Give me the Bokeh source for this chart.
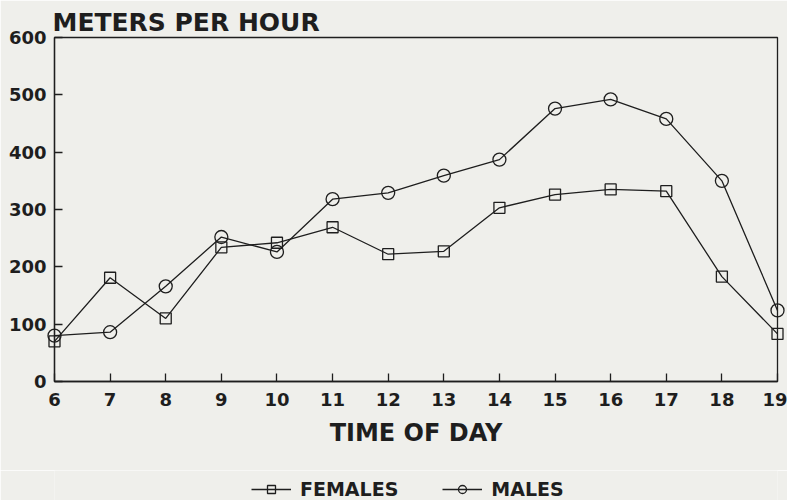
from bokeh.plotting import figure
from bokeh.layouts import column
from bokeh.models import Legend, LegendItem, Range1d, FixedTicker
from bokeh.embed import file_html
from bokeh.resources import INLINE

# ---- data ----
hours = [6, 7, 8, 9, 10, 11, 12, 13, 14, 15, 16, 17, 18, 19]
females = [70, 181, 110, 234, 242, 269, 222, 227, 303, 326, 335, 332, 183, 83]
males = [80, 86, 166, 252, 226, 318, 329, 359, 387, 476, 492, 458, 350, 124]
y_ticks = [0, 100, 200, 300, 400, 500, 600]
series_names = ["FEMALES", "MALES"]

FONT = "DejaVu Sans"
BG = "#efefeb"
INK = "#1e1e1e"

p = figure(width=787, height=470, output_backend="svg", toolbar_location=None,
           x_range=Range1d(hours[0], hours[-1]), y_range=Range1d(y_ticks[0], y_ticks[-1]),
           min_border_left=54, min_border_right=10, min_border_top=37, min_border_bottom=89)

p.background_fill_color = BG
p.border_fill_color = BG
p.outline_line_color = INK
p.outline_line_width = 1.3
p.grid.visible = False

p.title.text = "METERS PER HOUR"
p.title.text_font = FONT
p.title.text_font_size = "25px"
p.title.text_font_style = "bold"
p.title.text_color = INK
p.title.align = "left"
p.title.offset = -2
p.title.standoff = 2

for ax in (p.xaxis[0], p.yaxis[0]):
    ax.major_tick_in = 8
    ax.major_tick_out = 0
    ax.minor_tick_line_color = None
    ax.axis_line_color = INK
    ax.axis_line_width = 1.3
    ax.major_tick_line_color = INK
    ax.major_tick_line_width = 1.3
    ax.major_label_text_font = FONT
    ax.major_label_text_font_size = "18px"
    ax.major_label_text_font_style = "bold"
    ax.major_label_text_color = INK

p.xaxis.ticker = FixedTicker(ticks=hours)
p.yaxis.ticker = FixedTicker(ticks=y_ticks)
p.xaxis.major_label_standoff = 11
p.yaxis.major_label_standoff = 8
p.xaxis.axis_label = "TIME OF DAY"
p.xaxis.axis_label_text_font = FONT
p.xaxis.axis_label_text_font_size = "24px"
p.xaxis.axis_label_text_font_style = "bold"
p.xaxis.axis_label_text_color = INK
p.xaxis.axis_label_standoff = 10

line_kw = dict(line_color=INK, line_width=1.3)
sq_kw = dict(marker="square", size=11, line_color=INK, line_width=1.3, fill_alpha=0)
ci_kw = dict(marker="circle", size=13, line_color=INK, line_width=1.3, fill_alpha=0)

p.line(hours, females, **line_kw)
p.scatter(hours, females, level="annotation", **sq_kw)
p.line(hours, males, **line_kw)
p.scatter(hours, males, level="annotation", **ci_kw)

# ---- legend strip below the chart ----
p2 = figure(width=787, height=30, output_backend="svg", toolbar_location=None,
            x_axis_location=None, y_axis_location=None,
            x_range=Range1d(hours[0], hours[-1]), y_range=Range1d(-2, -1),
            min_border_left=0, min_border_right=0, min_border_top=0, min_border_bottom=0)
p2.background_fill_color = BG
p2.border_fill_color = BG
p2.outline_line_color = None
p2.grid.visible = False

fl = p2.line(hours, females, **line_kw)
fs = p2.scatter(hours, females, **sq_kw)
ml = p2.line(hours, males, **line_kw)
ms = p2.scatter(hours, males, **ci_kw)

legend = Legend(items=[LegendItem(label=series_names[0], renderers=[fl, fs]),
                       LegendItem(label=series_names[1], renderers=[ml, ms])],
                orientation="horizontal", location=(197, 0),
                border_line_color=None, background_fill_alpha=0,
                label_text_font=FONT, label_text_font_size="19px",
                label_text_font_style="bold", label_text_color=INK,
                glyph_width=40, glyph_height=20, label_standoff=9, spacing=44,
                padding=0, margin=0)
p2.add_layout(legend)

layout = column(p, p2, spacing=0)
open("out.html", "w").write(file_html(layout, INLINE))
